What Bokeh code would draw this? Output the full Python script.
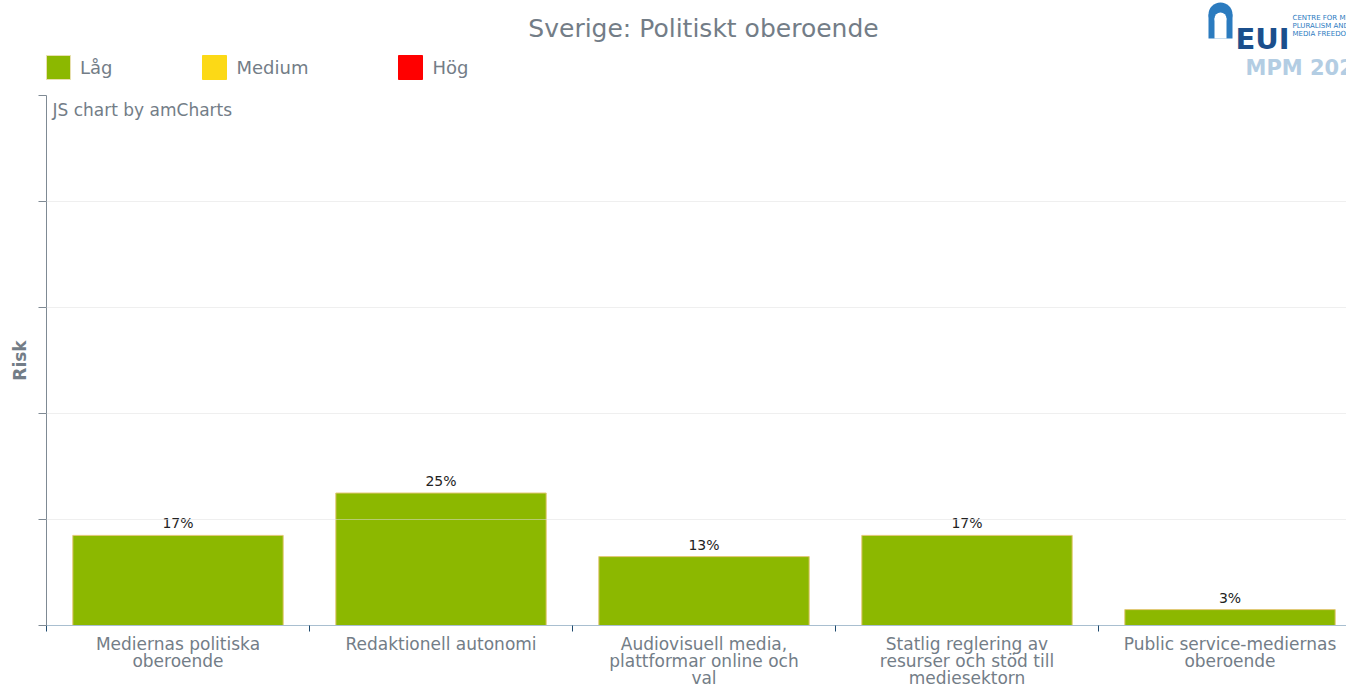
import math
from bokeh.plotting import figure
from bokeh.layouts import column
from bokeh.models import (Range1d, FixedTicker, ColumnDataSource, Legend, LegendItem,
                          Label, CustomJSTickFormatter)
from bokeh.core.properties import value
from bokeh.embed import file_html
from bokeh.resources import INLINE

# ---- data ----
title_text = "Sverige: Politiskt oberoende"
categories = [
    "Mediernas politiska\noberoende",
    "Redaktionell autonomi",
    "Audiovisuell media,\nplattformar online och\nval",
    "Statlig reglering av\nresurser och stöd till\nmediesektorn",
    "Public service-mediernas\noberoende",
]
risk_values = [17, 25, 13, 17, 3]
value_labels = ["17%", "25%", "13%", "17%", "3%"]
legend_labels = ["Låg", "Medium", "Hög"]
legend_colors = ["#8cb800", "#fcd916", "#ff0000"]
y_ticks = [0, 20, 40, 60, 80, 100]

FONT = "DejaVu Sans"
GRAY = "#737d87"

W = 1346
TOTAL_H = 685
HEAD_H = 94
MAIN_H = 538
FOOT_H = TOTAL_H - HEAD_H - MAIN_H
LEFT = 46
CAT_PX = 263.0
x_end = (W - LEFT) / CAT_PX

# ---------------- header: title, legend, logo ----------------
head = figure(width=W, height=HEAD_H, output_backend="svg", toolbar_location=None,
              x_range=Range1d(0, W), y_range=Range1d(HEAD_H, 0),
              x_axis_type=None, y_axis_type=None,
              min_border_left=0, min_border_right=0, min_border_top=0, min_border_bottom=0)
head.outline_line_color = None
head.grid.visible = False
head.frame_align = False

head.add_layout(Label(x=703, y=28, text=title_text, text_align="center",
                      text_baseline="middle", text_font=FONT, text_font_size="25px",
                      text_color=GRAY))

nan_src = ColumnDataSource(dict(x=[math.nan], top=[math.nan]))
legend_rs = [head.vbar(x="x", top="top", width=1, source=nan_src, fill_color=c,
                       line_color="#e8e0b0" if i == 0 else c, line_width=1)
             for i, c in enumerate(legend_colors)]
legend = Legend(items=[LegendItem(label=l, renderers=[r])
                       for l, r in zip(legend_labels, legend_rs)],
                orientation="horizontal", location=(43, 12),
                glyph_width=30, glyph_height=30, label_standoff=7, spacing=87,
                padding=0, margin=0, border_line_color=None,
                background_fill_alpha=0, label_text_font=FONT,
                label_text_font_size="18px", label_text_color=GRAY,
                label_height=30, label_text_baseline="middle")
head.add_layout(legend, "center")

# logo (approximation)
head.quad(left=[1208], right=[1232], top=[14], bottom=[38],
          fill_color="#2b7bbf", line_color=None)
head.ellipse(x=[1220], y=[14], width=24, height=24, fill_color="#2b7bbf",
             line_color=None)
head.quad(left=[1214], right=[1226], top=[18], bottom=[38], fill_color="white",
          line_color=None)
head.ellipse(x=[1220], y=[18], width=12, height=12, fill_color="white",
             line_color=None)
head.add_layout(Label(x=1235, y=38, text="EUI", text_font=FONT, text_font_size="29px",
                      text_font_style="bold", text_color="#1b4f8c",
                      text_baseline="alphabetic"))
for i, t in enumerate(["CENTRE FOR MEDIA", "PLURALISM AND", "MEDIA FREEDOM"]):
    head.add_layout(Label(x=1292, y=17 + 8 * i, text=t, text_font=FONT,
                          text_font_size="7px", text_color="#2b7bbf",
                          text_baseline="alphabetic"))
head.add_layout(Label(x=1245, y=67, text="MPM 2024", text_font=FONT,
                      text_font_size="21px", text_font_style="bold", text_color="#b3cde3",
                      text_baseline="alphabetic"))

# ---------------- main chart ----------------
centers = [i + 0.5 for i in range(len(categories))]
src = ColumnDataSource(dict(x=centers, top=risk_values, lab=value_labels,
                            cat=categories))
x_range = Range1d(0, x_end)

p = figure(width=W, height=MAIN_H, output_backend="svg", toolbar_location=None,
           x_range=x_range, y_range=Range1d(0, 100),
           min_border_left=LEFT, min_border_right=0, min_border_bottom=7,
           min_border_top=1)
p.outline_line_color = None
p.frame_align = False

p.vbar(x="x", top="top", width=0.8, bottom=0, source=src,
       fill_color=legend_colors[0], line_color="#e4c878", line_width=1)
p.text(x="x", y="top", text="lab", source=src, text_align="center",
       text_baseline="bottom", y_offset=-4, text_font_size="14px",
       text_color="#222222", text_font=value(FONT))

# y axis
ya = p.yaxis[0]
ya.ticker = FixedTicker(ticks=y_ticks)
ya.formatter = CustomJSTickFormatter(code="return ''")
ya.major_label_standoff = 0
ya.major_tick_out = 8
ya.major_tick_in = 0
ya.minor_tick_out = 0
ya.minor_tick_in = 0
ya.axis_line_color = "#7f8a94"
ya.major_tick_line_color = "#7f8a94"
ya.axis_label = "Risk"
ya.axis_label_text_font = FONT
ya.axis_label_text_font_size = "17px"
ya.axis_label_text_font_style = "bold"
ya.axis_label_text_color = GRAY
ya.axis_label_standoff = 9

p.ygrid.ticker = FixedTicker(ticks=y_ticks[1:])
p.ygrid.grid_line_color = "#e0e0e0"
p.ygrid.grid_line_alpha = 0.5
p.ygrid.level = "overlay"
p.xgrid.grid_line_color = None

# x axis (ticks at category boundaries; labels drawn in the footer)
xa = p.xaxis[0]
xa.ticker = FixedTicker(ticks=centers, minor_ticks=list(range(len(categories) + 1)))
xa.formatter = CustomJSTickFormatter(code="return ''")
xa.major_tick_out = 0
xa.major_tick_in = 0
xa.minor_tick_out = 6
xa.minor_tick_in = 0
xa.minor_tick_line_color = "#1f4a6e"
xa.axis_line_color = "#a9bfd0"
xa.major_label_standoff = 0

p.add_layout(Label(x=0, y=100, x_offset=6, y_offset=-4, text="JS chart by amCharts",
                   text_baseline="top", text_font=FONT, text_font_size="17px",
                   text_color=GRAY))

# ---------------- footer: category labels on the shared x scale ----------------
foot = figure(width=W, height=FOOT_H, output_backend="svg", toolbar_location=None,
              x_range=x_range, y_range=Range1d(FOOT_H, 0),
              x_axis_type=None, y_axis_type=None,
              min_border_left=LEFT, min_border_right=0, min_border_top=0,
              min_border_bottom=0)
foot.outline_line_color = None
foot.grid.visible = False
foot.frame_align = False
foot.text(x="x", y=1, text="cat", source=src, text_align="center",
          text_baseline="top", text_font=value(FONT), text_font_size="17px",
          text_color=GRAY, text_line_height=0.87)

layout = column(head, p, foot, spacing=0)
open("out.html", "w").write(file_html(layout, INLINE))
